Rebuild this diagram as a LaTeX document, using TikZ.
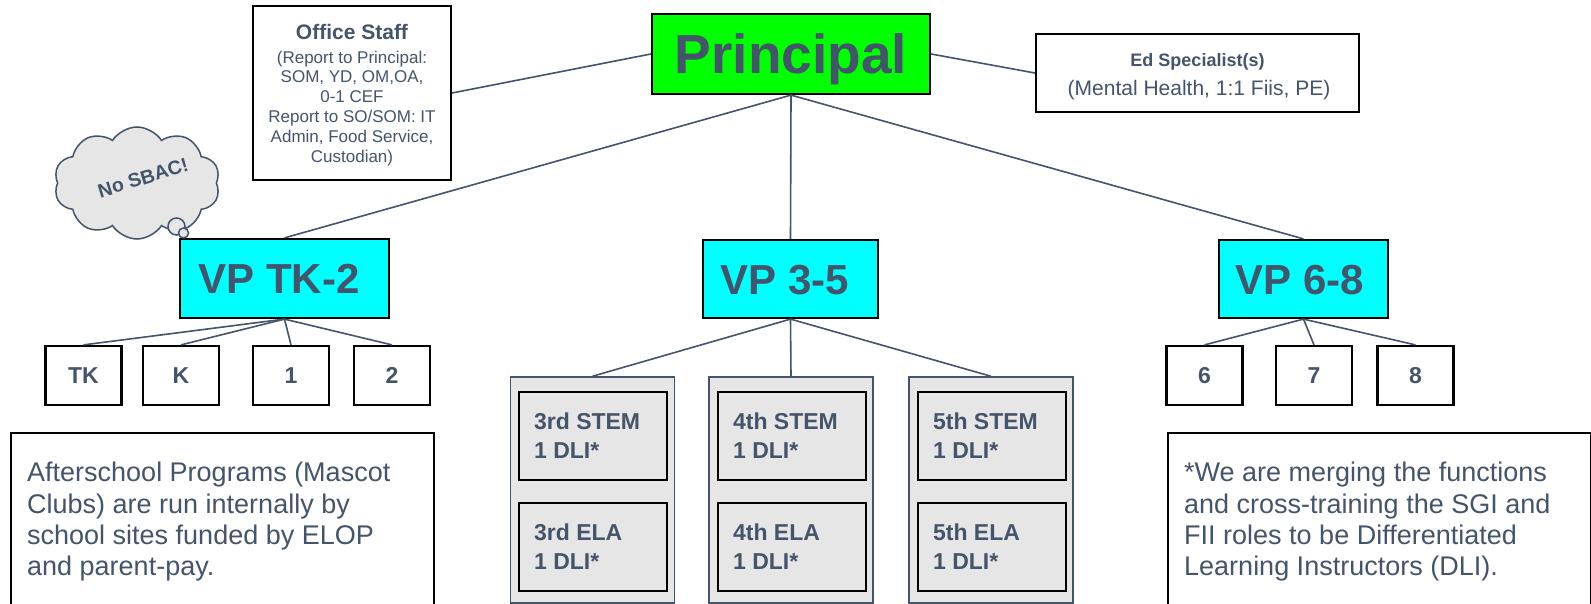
\documentclass[tikz,border=0pt]{standalone}
\usepackage{fontspec}
\setmainfont{Liberation Sans}
\usetikzlibrary{shapes.symbols}
\definecolor{slate}{HTML}{44546A}
\definecolor{pgreen}{HTML}{00FF00}
\definecolor{vcyan}{HTML}{00FFFF}
\definecolor{lgrey}{HTML}{E6E6E6}
\begin{document}
\begin{tikzpicture}[x=1pt,y=-1pt,
  box/.style={draw=black,line width=2.2pt,inner sep=0pt,text=slate},
  link/.style={draw=slate,line width=1.6pt},
  bigbox/.style={box,font=\fontsize{55}{60}\selectfont\bfseries,text height=39.4pt,text depth=0pt},
  vpbox/.style={box,fill=vcyan,minimum height=78pt},
  vptext/.style={text=slate,font=\fontsize{42}{48}\selectfont\bfseries,text height=30.1pt,text depth=0pt,inner sep=0pt},
  gradebox/.style={box,minimum width=76pt,minimum height=59pt,font=\fontsize{23}{28}\selectfont\bfseries,text height=16.5pt,text depth=0pt},
  groupbox/.style={draw=slate,line width=1.5pt,fill=lgrey,minimum width=164pt,minimum height=226pt,inner sep=0pt},
  subbox/.style={box,fill=lgrey,minimum width=148pt,minimum height=88pt},
  subtext/.style={text=slate,font=\fontsize{23}{29}\selectfont\bfseries,align=left,inner sep=0pt,anchor=west},
  notetext/.style={text=slate,font=\fontsize{27}{31.4}\selectfont,align=left,inner sep=0pt,anchor=north west},
  bubble/.style={circle,draw=slate,fill=lgrey,line width=1.5pt,inner sep=0pt}]
\clip (0,0) rectangle (1591,604);
\fill[white] (0,0) rectangle (1591,604);

% top level
\node[bigbox,fill=pgreen,minimum width=278pt,minimum height=80pt] (principal) at (791,54) {Principal};

\node[box,minimum width=198pt,minimum height=174pt] (office) at (352,93) {};
\node[text=slate,font=\fontsize{21}{24}\selectfont\bfseries,anchor=base,inner sep=0pt] (officetitle) at (352,40) {Office Staff};
\node[text=slate,font=\fontsize{17}{19.8}\selectfont,align=center,anchor=north,inner sep=0pt] (officebody) at (352,50.6)
  {(Report to Principal:\\SOM, YD, OM,OA,\\0-1 CEF\\Report to SO/SOM: IT\\Admin, Food Service,\\Custodian)};

\node[box,minimum width=323pt,minimum height=78pt] (ed) at (1197.5,73) {};
\node[text=slate,font=\fontsize{18}{20}\selectfont\bfseries,anchor=base,inner sep=0pt] (edtitle) at (1197.5,67) {Ed Specialist(s)};
\node[text=slate,font=\fontsize{21}{23}\selectfont,anchor=base,inner sep=0pt] (edbody) at (1199,96) {(Mental Health, 1:1 Fiis, PE)};

% vice principals
\node[vpbox,minimum width=209pt,minimum height=79pt] (vpa) at (284.5,278.5) {};
\node[vpbox,minimum width=175pt] (vpb) at (790.5,279) {};
\node[vpbox,minimum width=169pt] (vpc) at (1303.5,279) {};
\node[vptext] (vpatext) at (279,278.5) {VP TK-2};
\node[vptext] (vpbtext) at (785,279) {VP 3-5};
\node[vptext] (vpctext) at (1300,279) {VP 6-8};

% cloud
\node[cloud,cloud puffs=10,cloud puff arc=115,cloud ignores aspect,draw=slate,line width=1.5pt,fill=lgrey,
      minimum width=166pt,minimum height=112pt,inner sep=0pt] (cloud) at (137,183) {};
\node[rotate=17,text=slate,font=\fontsize{19.5}{21}\selectfont\bfseries,inner sep=0pt] (sbac) at (143,178) {No SBAC!};
\node[bubble,minimum size=17pt] (bubA) at (176.5,226.5) {};
\node[bubble,minimum size=10pt] (bubB) at (183.5,233) {};

% grades TK-2
\node[gradebox] (tk) at (83.5,375.5) {TK};
\node[gradebox] (k) at (181,375.5) {K};
\node[gradebox] (one) at (291,375.5) {1};
\node[gradebox] (two) at (392,375.5) {2};

% grades 6-8
\node[gradebox] (six) at (1204.5,375.5) {6};
\node[gradebox] (seven) at (1314,375.5) {7};
\node[gradebox] (eight) at (1415.5,375.5) {8};

% grades 3-5
\node[groupbox] (g3) at (592.5,490) {};
\node[groupbox] (g4) at (791,490) {};
\node[groupbox] (g5) at (991,490) {};
\node[subbox] (s3a) at (593,436) {};
\node[subbox] (s3b) at (593,547) {};
\node[subbox] (s4a) at (792,436) {};
\node[subbox] (s4b) at (792,547) {};
\node[subbox] (s5a) at (992,436) {};
\node[subbox] (s5b) at (992,547) {};
\node[subtext] (t3a) at ([xshift=16pt]s3a.west) {3rd STEM\\1 DLI*};
\node[subtext] (t3b) at ([xshift=16pt]s3b.west) {3rd ELA\\1 DLI*};
\node[subtext] (t4a) at ([xshift=16pt]s4a.west) {4th STEM\\1 DLI*};
\node[subtext] (t4b) at ([xshift=16pt]s4b.west) {4th ELA\\1 DLI*};
\node[subtext] (t5a) at ([xshift=16pt]s5a.west) {5th STEM\\1 DLI*};
\node[subtext] (t5b) at ([xshift=16pt]s5b.west) {5th ELA\\1 DLI*};

% notes
\node[box,line width=1.8pt,minimum width=423pt,minimum height=220pt,anchor=north west] (after) at (10,432) {};
\node[notetext] (aftertext) at (27,462) {Afterschool Programs (Mascot\\Clubs) are run internally by\\school sites funded by ELOP\\and parent-pay.};
\node[box,line width=1.8pt,minimum width=423pt,minimum height=220pt,anchor=north west] (merge) at (1167,432) {};
\node[notetext] (mergetext) at (1184,462) {*We are merging the functions\\and cross-training the SGI and\\FII roles to be Differentiated\\Learning Instructors (DLI).};

% connectors
\draw[link] (office.east) -- (principal.west);
\draw[link] (principal.east) -- (ed.west);
\foreach \v in {vpa,vpb,vpc} \draw[link] (principal.south) -- (\v.north);
\foreach \g in {tk,k,one,two} \draw[link] (vpa.south) -- (\g.north);
\foreach \g in {g3,g4,g5} \draw[link] (vpb.south) -- (\g.north);
\foreach \g in {six,seven,eight} \draw[link] (vpc.south) -- (\g.north);
\end{tikzpicture}
\end{document}
